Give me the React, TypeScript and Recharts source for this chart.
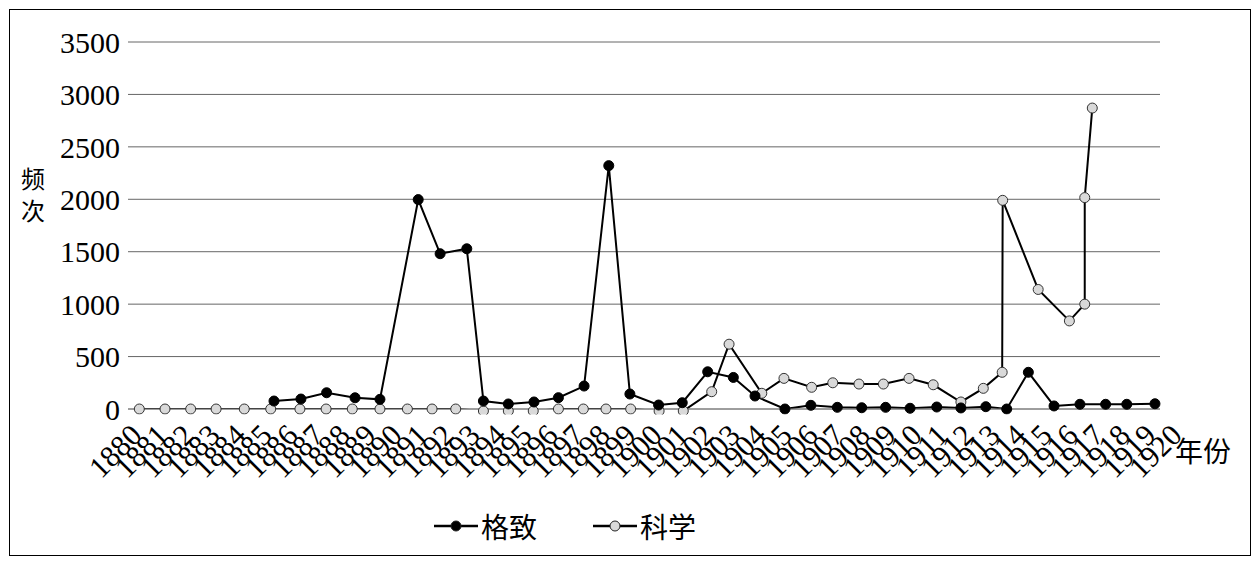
import { LineChart, Line, XAxis, YAxis, CartesianGrid } from "recharts";

// 格致 series: x positions (fractional years as drawn) and frequencies
const gejiYears = [
  1885.3, 1886.37, 1887.39, 1888.52, 1889.51, 1891.03, 1891.9, 1892.96, 1893.62, 1894.61,
  1895.63, 1896.6, 1897.62, 1898.6, 1899.44, 1900.58, 1901.52, 1902.53, 1903.55, 1904.41,
  1905.6, 1906.63, 1907.68, 1908.65, 1909.6, 1910.57, 1911.63, 1912.59, 1913.58, 1914.41,
  1915.27, 1916.29, 1917.32, 1918.34, 1919.18, 1920.3,
];
const gejiValues = [
  76, 95, 155, 107, 92, 1997, 1481, 1528, 76, 48,
  67, 108, 219, 2321, 143, 38, 60, 355, 301, 124,
  0, 35, 16, 12, 16, 7, 19, 10, 22, 0,
  350, 29, 45, 45, 45, 50,
];

// 科学 series
const kexueYears = [
  1879.95, 1880.97, 1881.99, 1883.0, 1884.12, 1885.17, 1886.33, 1887.37, 1888.41, 1889.51,
  1890.6, 1891.58, 1892.52, 1893.62, 1894.61, 1895.6, 1896.6, 1897.59, 1898.49, 1899.47,
  1900.6, 1901.56, 1902.69, 1903.38, 1904.68, 1905.56, 1906.66, 1907.5, 1908.54, 1909.51,
  1910.53, 1911.49, 1912.59, 1913.48, 1914.23, 1914.25, 1915.66, 1916.9, 1917.51, 1917.51,
  1917.81,
];
const kexueValues = [
  0, 0, 0, 0, 0, 0, 0, 0, 0, 0,
  0, 0, 0, -19, -19, -19, 0, 0, 0, 0,
  -19, -19, 165, 618, 150, 292, 207, 250, 238, 238,
  292, 231, 67, 197, 350, 1990, 1140, 840, 1000, 2016,
  2870,
];

const yearTicks = Array.from({ length: 41 }, (_, i) => 1880 + i);
const valueTicks = [0, 500, 1000, 1500, 2000, 2500, 3000, 3500];

const gejiData = gejiYears.map((x, i) => ({ x, v: gejiValues[i] }));
const kexueData = kexueYears.map((x, i) => ({ x, v: kexueValues[i] }));

const serif = "Liberation Serif, DejaVu Serif, serif";
const cjk = "Noto Sans CJK SC, sans-serif";

// year labels in the original drift a bit wider than the plotted points
function YearTick({ x, y, payload }: any) {
  const ax = x + 3 + (payload.value - 1880) * 0.83;
  const ay = y + 20;
  return (
    <text
      x={ax}
      y={ay}
      transform={`rotate(-45, ${ax}, ${ay})`}
      textAnchor="end"
      style={{ fontSize: 30, fontFamily: serif }}
      fill="#000"
    >
      {payload.value}
    </text>
  );
}

function LegendItem({ label, fill }: { label: string; fill: string }) {
  return (
    <div style={{ display: "flex", alignItems: "center" }}>
      <svg width={44} height={14}>
        <line x1={0} y1={7} x2={44} y2={7} stroke="#000" strokeWidth={2.5} />
        <circle cx={22} cy={7} r={5} fill={fill} stroke="#222" strokeWidth={1} />
      </svg>
      <span style={{ fontFamily: cjk, fontSize: 28, marginLeft: 3 }}>{label}</span>
    </div>
  );
}

export default function App() {
  return (
    <div
      style={{
        position: "relative",
        width: 1242,
        height: 547,
        margin: "1px 0 0 1px",
        border: "1px solid #000",
        boxSizing: "border-box",
        background: "#fff",
        fontFamily: serif,
      }}
    >
      <LineChart width={1240} height={545} margin={{ top: 32, right: 90, bottom: 0, left: 0 }}>
        <CartesianGrid vertical={false} stroke="#666" />
        <XAxis
          dataKey="x"
          type="number"
          domain={[1879.5, 1920.5]}
          ticks={yearTicks}
          interval={0}
          height={146}
          tickLine={false}
          axisLine={{ stroke: "#888" }}
          tick={<YearTick />}
        />
        <YAxis
          domain={[0, 3500]}
          ticks={valueTicks}
          width={118}
          tickLine={false}
          axisLine={false}
          tick={{ fontSize: 30, fill: "#000", style: { fontFamily: serif } }}
          allowDataOverflow
        />
        <Line
          data={kexueData}
          dataKey="v"
          stroke="#000"
          strokeWidth={2}
          dot={{ r: 5, fill: "#d9d9d9", stroke: "#333", strokeWidth: 1, clipDot: false }}
          isAnimationActive={false}
        />
        <Line
          data={gejiData}
          dataKey="v"
          stroke="#000"
          strokeWidth={2}
          dot={{ r: 5, fill: "#000", stroke: "#000", strokeWidth: 1, clipDot: false }}
          isAnimationActive={false}
        />
      </LineChart>
      <div style={{ position: "absolute", left: 11, top: 150, fontFamily: cjk, fontSize: 24 }}>频</div>
      <div style={{ position: "absolute", left: 11, top: 182, fontFamily: cjk, fontSize: 24 }}>次</div>
      <div
        style={{
          position: "absolute",
          left: 1165,
          top: 420,
          fontFamily: cjk,
          fontSize: 28,
        }}
      >
        年份
      </div>
      <div
        style={{
          position: "absolute",
          left: 424,
          top: 496,
          display: "flex",
          gap: 56,
        }}
      >
        <LegendItem label="格致" fill="#000" />
        <LegendItem label="科学" fill="#d9d9d9" />
      </div>
    </div>
  );
}
